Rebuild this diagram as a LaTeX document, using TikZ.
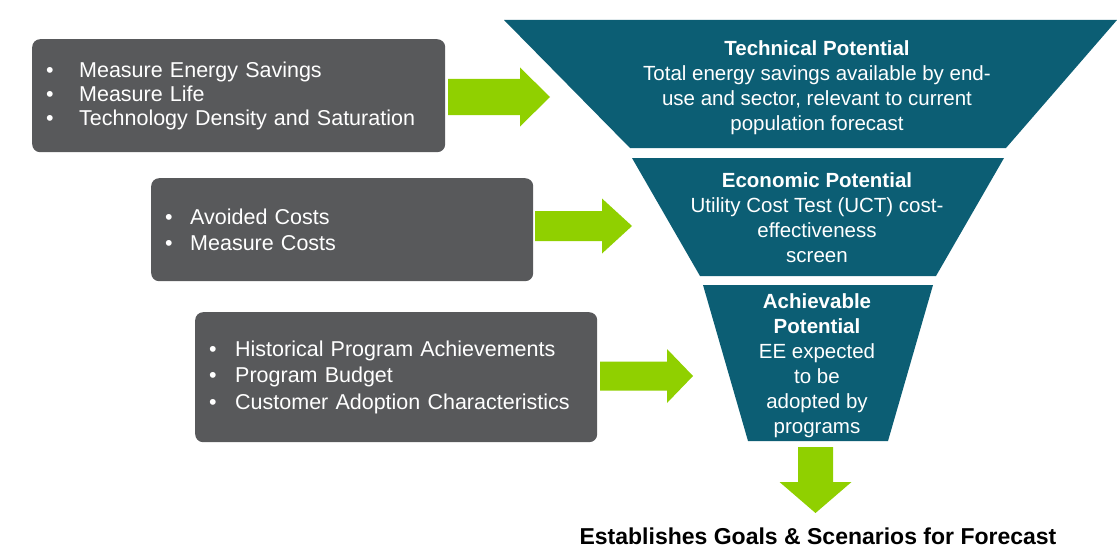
\documentclass[tikz,border=0pt]{standalone}
\usepackage{fontspec}
\setmainfont{Liberation Sans}
\usepackage{xcolor}
\usepackage{tikz}
\usetikzlibrary{positioning,calc}
\definecolor{boxgray}{RGB}{88,89,91}
\definecolor{funnelteal}{RGB}{12,94,116}
\definecolor{arrowgreen}{RGB}{144,208,0}
\tikzset{
  input box/.style={
    rectangle,
    rounded corners=8pt,
    fill=boxgray,
    text=white,
    anchor=north west,
    align=left,
    inner xsep=14pt,
    inner ysep=0pt,
    font=\fontsize{21.5}{24}\selectfont
  },
  stage/.style={
    fill=funnelteal
  },
  stage text/.style={
    text=white,
    align=center,
    inner sep=0pt,
    font=\fontsize{20.5}{25}\selectfont
  },
  green arrow/.style={
    fill=arrowgreen
  },
  goal text/.style={
    inner sep=0pt,
    font=\fontsize{23}{27}\selectfont\bfseries
  }
}
% bullet line: #1 = bullet column, #2 = text
\newcommand{\itm}[2]{\makebox[#1][l]{\textbullet}#2}
% block arrows: tail, shaft length, head length, shaft half width, head half width
\newcommand{\rightfat}[5]{%
  \fill[green arrow] (#1) ++(0,-#4) -- ++(#2,0) -- ++(0,{#4-#5}) -- ++(#3,#5)
    -- ++(-#3,#5) -- ++(0,{#4-#5}) -- ++(-#2,0) -- cycle;}
\newcommand{\downfat}[5]{%
  \fill[green arrow] (#1) ++(-#4,0) -- ++(0,#2) -- ++({#4-#5},0) -- ++(#5,#3)
    -- ++(#5,-#3) -- ++({#4-#5},0) -- ++(0,-#2) -- cycle;}

\begin{document}
\begin{tikzpicture}[x=1pt, y=-1pt]
  \useasboundingbox[fill=white] (0,0) rectangle (1117,551);

  % Inputs on left
  \node[input box, text width=385pt, minimum width=413pt, minimum height=113pt] (savings) at (32,39)
    {\itm{33pt}{Measure Energy Savings}\\
     \itm{33pt}{Measure Life}\\
     \itm{33pt}{Technology Density and Saturation}};
  \node[input box, text width=354pt, minimum width=382pt, minimum height=103pt,
        font=\fontsize{21.5}{26}\selectfont] (costs) at (151,178)
    {\itm{25pt}{Avoided Costs}\\
     \itm{25pt}{Measure Costs}};
  \node[input box, text width=374pt, minimum width=402pt, minimum height=130pt,
        font=\fontsize{21.5}{26.5}\selectfont] (programs) at (195,312)
    {\itm{26pt}{Historical Program Achievements}\\
     \itm{26pt}{Program Budget}\\
     \itm{26pt}{Customer Adoption Characteristics}};

  % Funnel
  \fill[stage] (504,20) -- (1117,20) -- (1006,148) -- (630,148) -- cycle;
  \fill[stage] (632,158) -- (1004,158) -- (936,276) -- (700,276) -- cycle;
  \fill[stage] (703,285) -- (933,285) -- (888,441) -- (748,441) -- cycle;

  \node[stage text] (technical) at (817,87.5)
    {\textbf{Technical Potential}\\
     Total energy savings available by end-\\
     use and sector, relevant to current\\
     population forecast};
  \node[stage text] (economic) at (817,217.5)
    {\textbf{Economic Potential}\\
     Utility Cost Test (UCT) cost-\\
     effectiveness\\
     screen};
  \node[stage text] (achievable) at (817,365.5)
    {\textbf{Achievable}\\
     \textbf{Potential}\\
     EE expected\\
     to be\\
     adopted by\\
     programs};

  % Arrows into the funnel
  \coordinate (in1) at (448,97);
  \coordinate (in2) at (535,226);
  \coordinate (in3) at (600,376);
  \coordinate (out) at (815.5,447);
  \rightfat{in1}{72}{30}{18}{29.5}
  \rightfat{in2}{67}{30}{15}{27.5}
  \rightfat{in3}{67}{26}{14.5}{27}
  \downfat{out}{35}{31}{17.5}{36}

  % Result
  \node[goal text] (goals) at (818,536) {Establishes Goals \& Scenarios for Forecast};

\end{tikzpicture}
\end{document}
